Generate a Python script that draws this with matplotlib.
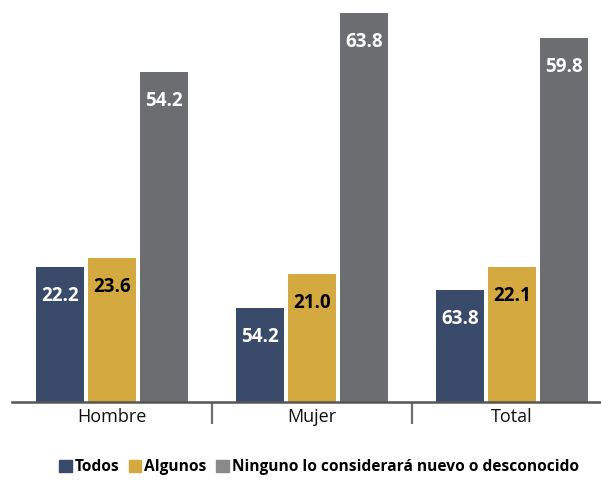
import matplotlib.pyplot as plt
import numpy as np
from matplotlib.patches import Patch

plt.rcParams['font.family'] = ['Open Sans', 'DejaVu Sans']

grupos = ['Hombre', 'Mujer', 'Total']
series = ['Todos', 'Algunos', 'Ninguno lo considerará nuevo o desconocido']
todos = [22.2, 15.4, 18.4]
algunos = [23.6, 21.0, 22.1]
ninguno = [54.2, 63.8, 59.8]
# etiquetas tal como aparecen en el original
etq_todos = ['22.2', '54.2', '63.8']
etq_algunos = ['23.6', '21.0', '22.1']
etq_ninguno = ['54.2', '63.8', '59.8']

colores = ['#3a4a6b', '#d4a940', '#6c6d71']
col_leyenda = ['#3a4a6b', '#d4a940', '#8a8a8c']
col_texto = ['white', 'black', 'white']


def dibujar():
    fig = plt.figure(figsize=(6.01, 4.8), dpi=100)
    ax = fig.add_axes([12 / 601, 1 - 402 / 480, 589 / 601, 402 / 480])
    x = np.arange(len(grupos))
    ancho = 0.24
    paso = 0.26
    valores = [todos, algunos, ninguno]
    etiquetas = [etq_todos, etq_algunos, etq_ninguno]
    for i in range(3):
        barras = ax.bar(x + (i - 1) * paso, valores[i], ancho, color=colores[i])
        for b, t in zip(barras, etiquetas[i]):
            ax.annotate(t, (b.get_x() + b.get_width() / 2, b.get_height()),
                        xytext=(0, -29), textcoords='offset pixels',
                        ha='center', va='center', fontsize=13.5,
                        fontweight='bold', color=col_texto[i])

    ax.set_xlim(-0.5, 2.445)
    ax.set_ylim(0, 402 / 6.095)
    for s in ['top', 'right', 'left']:
        ax.spines[s].set_visible(False)
    ax.spines['bottom'].set_color('#555555')
    ax.spines['bottom'].set_linewidth(1.8)
    ax.set_yticks([])
    ax.set_xticks([0.5, 1.5], minor=False)
    ax.set_xticklabels([])
    ax.tick_params(axis='x', length=16, width=1.6, color='#707070')
    for xi, g in zip(x, grupos):
        ax.annotate(g, (xi, 0), xytext=(0, -15), textcoords='offset pixels',
                    ha='center', va='center', fontsize=13,
                    fontweight='medium', color='#111111')

    handles = [Patch(color=c) for c in col_leyenda]
    fig.legend(handles, series, loc='center', bbox_to_anchor=(319 / 601, 1 - 467 / 480),
               ncol=3, frameon=False, handlelength=0.8, handleheight=0.8,
               handletextpad=0.2, columnspacing=0.6,
               prop={'size': 11.2, 'weight': 'bold'})
    fig.savefig('out.png', dpi=100)


if __name__ == '__main__':
    dibujar()
